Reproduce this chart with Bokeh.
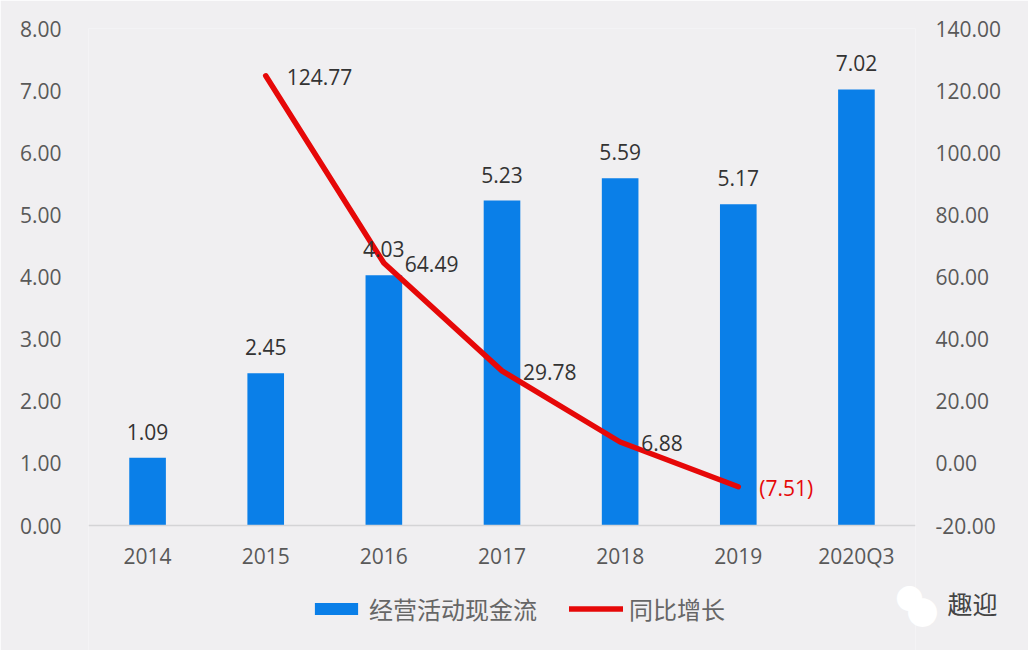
from bokeh.plotting import figure
from bokeh.models import (ColumnDataSource, FactorRange, Range1d, LinearAxis, FixedTicker,
                          NumeralTickFormatter, Legend, LegendItem)
from bokeh.core.properties import value
from bokeh.embed import file_html
from bokeh.resources import INLINE

categories = ["2014", "2015", "2016", "2017", "2018", "2019", "2020Q3"]
cash_flow = [1.09, 2.45, 4.03, 5.23, 5.59, 5.17, 7.02]
growth_categories = ["2015", "2016", "2017", "2018", "2019"]
growth = [124.77, 64.49, 29.78, 6.88, -7.51]
left_ticks = [0, 1, 2, 3, 4, 5, 6, 7, 8]
right_ticks = [-20, 0, 20, 40, 60, 80, 100, 120, 140]
bar_name = "经营活动现金流"
line_name = "同比增长"
watermark_text = "趣迎"

BG = "#f0eff1"
NUM_FONT = "Open Sans"
CJK_FONT = "Noto Sans CJK SC"
TICK_COLOR = "#595959"
LABEL_COLOR = "#333333"
BLUE = "#0a7fe8"
RED = "#e60808"

# The frame runs to the bottom of the canvas so that the legend can sit in it;
# the extra room below zero is 125 px of the 622 px frame.
FRAME_H = 622
BELOW = 125
pad = BELOW / (FRAME_H - BELOW)
left_span = max(left_ticks) - min(left_ticks)
right_span = max(right_ticks) - min(right_ticks)

p = figure(width=1028, height=650, output_backend="svg", toolbar_location=None,
           x_range=FactorRange(*categories),
           y_range=Range1d(min(left_ticks) - pad * left_span, max(left_ticks)),
           min_border_left=88, min_border_right=113, min_border_top=28, min_border_bottom=0,
           background_fill_color=BG, border_fill_color=BG, outline_line_color=None)
p.grid.visible = False
p.extra_y_ranges = {"growth": Range1d(min(right_ticks) - pad * right_span, max(right_ticks))}

p.yaxis.ticker = FixedTicker(ticks=left_ticks)
p.yaxis.formatter = NumeralTickFormatter(format="0.00")
right = LinearAxis(y_range_name="growth", ticker=FixedTicker(ticks=right_ticks),
                   formatter=NumeralTickFormatter(format="0.00"))
p.add_layout(right, "right")

for ax in (p.yaxis[0], right):
    ax.axis_line_color = None
    ax.major_tick_line_color = None
    ax.minor_tick_line_color = None
    ax.major_label_text_font = NUM_FONT
    ax.major_label_text_font_size = "21px"
    ax.major_label_text_color = TICK_COLOR
p.yaxis[0].major_label_standoff = 21
right.major_label_standoff = 14

xa = p.xaxis[0]
xa.fixed_location = 0
xa.axis_line_color = "#d4d4d6"
xa.axis_line_width = 1.5
xa.major_tick_line_color = None
xa.minor_tick_line_color = None
xa.major_label_text_font = NUM_FONT
xa.major_label_text_font_size = "21px"
xa.major_label_text_color = TICK_COLOR
xa.major_label_standoff = 10

bars_src = ColumnDataSource(dict(x=categories, y=cash_flow, label=[f"{v:.2f}" for v in cash_flow]))
bars = p.vbar(x="x", top="y", width=0.31, source=bars_src, fill_color=BLUE, line_color=None)

line_src = ColumnDataSource(dict(x=growth_categories, y=growth,
                                 label=[f"{v:.2f}" if v >= 0 else f"({-v:.2f})" for v in growth],
                                 color=[LABEL_COLOR if v >= 0 else RED for v in growth]))
line = p.line(x="x", y="y", source=line_src, y_range_name="growth", line_color=RED,
              line_width=5.5, line_join="round", line_cap="round")

p.text(x="x", y="y", text="label", source=bars_src, text_align="center", text_baseline="middle",
       y_offset=-26, text_font=value(NUM_FONT), text_font_size="21px", text_color=LABEL_COLOR)
p.text(x="x", y="y", text="label", source=line_src, y_range_name="growth", text_align="left",
       text_baseline="middle", x_offset=21, y_offset=1, text_font=value(NUM_FONT),
       text_font_size="21px", text_color="color")

legend = Legend(items=[LegendItem(label=bar_name, renderers=[bars]),
                       LegendItem(label=line_name, renderers=[line])],
                orientation="horizontal", location=(221, 24), background_fill_alpha=0,
                border_line_color=None, glyph_width=54, glyph_height=15, label_standoff=6,
                spacing=32, padding=0, margin=0, label_text_font=CJK_FONT,
                label_text_font_size="24px", label_text_color="#666666")
p.add_layout(legend, "center")

# Watermark in the lower right corner: extra axes in the right panel, pulled back over the
# main axis with negative standoffs. Positions are in units of the right-hand scale.
for tick, text, size, color, standoff in [(-43.5, "●", "28px", "#ffffff", -115),
                                          (-47.5, "●", "32px", "#ffffff", -104),
                                          (-45.0, watermark_text, "25px", "#444444", -63)]:
    mark = LinearAxis(y_range_name="growth",
                      ticker=FixedTicker(ticks=[tick]), major_label_overrides={tick: text},
                      axis_line_color=None, major_tick_line_color=None, minor_tick_line_color=None,
                      major_label_standoff=standoff, major_label_text_font=CJK_FONT,
                      major_label_text_font_size=size, major_label_text_color=color)
    p.add_layout(mark, "right")

open("out.html", "w").write(file_html(p, INLINE))
